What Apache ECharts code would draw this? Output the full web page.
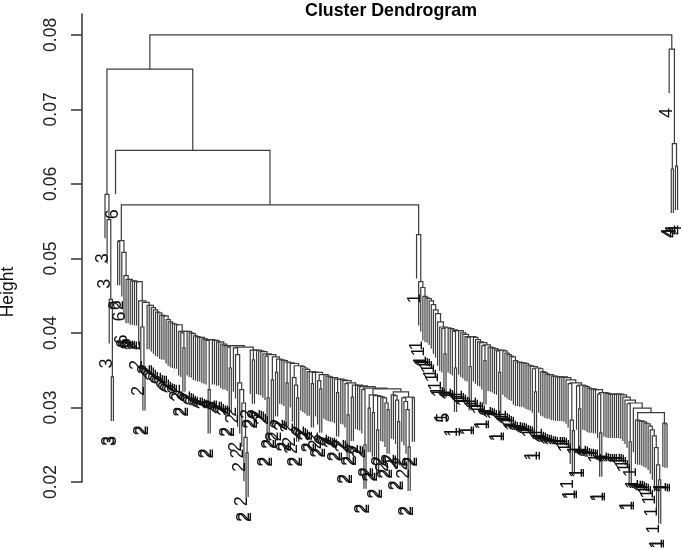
<!DOCTYPE html>
<html><head><meta charset="utf-8"><style>html,body{margin:0;padding:0;background:#fff}#c{width:682px;height:549px;filter:blur(.5px)}</style>
<script src="https://cdn.jsdelivr.net/npm/echarts@6/dist/echarts.min.js"></script></head>
<body><div id="c"></div><script>
const tickValues=[0.02,0.03,0.04,0.05,0.06,0.07,0.08];
const rootHeight=.08, leftHeight=.0754, midHeight=.0645, mainHeight=.0572, rightHeight=.0781, rightSubHeight=.0654;
const hang=.0059;
const clusterLeft=[.0586,.0552,.0445,.0341];
const clusterRightA=[.0620];
const clusterRightB=[.0624];
// each entry: a merge height with a single leaf, or [height, ...nested chain] with a side branch
const chainA=[[.0524,.0523],.0508,.0477,.0472,.0472,.0470,.0470,.0469,.0469,.0443,[.0441,.0408,.0355],
.0437,.0437,.0434,.0431,.0428,.0427,.0424,.0423,.0423,.0418,.0415,.0413,.0412,.0411,.0411,.0402,[.0402,.0400,.0380],
.0402,.0400,.0399,.0396,.0395,.0394,.0394,.0392,.0391,[.0391,.0390,.0324],
.0390,.0390,.0388,.0388,.0385,.0383,.0383,[.0383,.0381,.0353],[.0381,.0380,.0371,.0333,.0324,.0306,.0260,.0239],
.0377,[.0377,.0364],.0377,.0376,.0375,.0372,[.0371,.0369,.0313],[.0368,.0337],[.0365,.0347],.0364,.0363,.0361,[.0360,.0333],.0359,
[.0356,.0340,.0330,.0313],.0355,.0353,.0351,.0348,.0348,[.0347,.0332],.0347,[.0344,.0336,.0325],
.0344,.0342,.0341,.0340,.0340,.0338,[.0338,.0320],.0337,.0336,[.0333,.0332,.0290],[.0330,.0314],.0330,.0329,.0328,[.0326,.0324,.0250],
[.0325,[.0317,.0299],[.0316,.0293],[.0315,.0270],.0314,.0313,.0306,.0297],
[.0321,.0317,.0316,.0310,.0281],[.0314,.0313,.0308,.0297,.0247],.0313];
const chainB=[.0532,.0469,.0461,.0449,.0447,.0446,.0443,.0438,.0431,.0426,.0415,.0408,[.0407,.0406,.0372],
.0406,.0404,[.0403,.0402,.0353],.0403,.0400,.0398,.0395,[.0395,.0394,.0355],.0394,.0391,.0388,.0387,[.0384,.0383,.0363],
.0381,.0380,.0379,.0377,[.0377,.0376,.0347],.0376,.0373,.0371,.0369,.0368,.0363,.0361,.0361,.0360,.0360,.0359,.0357,.0356,.0355,
[.0353,.0352,.0321],.0352,.0348,.0347,.0345,.0344,.0344,.0342,.0342,.0341,.0341,.0341,.0341,.0340,.0337,
[.0333,.0332,.0283,.0269],[.0330,.0329,.0298],.0329,.0328,.0326,.0325,.0325,.0324,.0324,[.0320,.0318,.0266],
.0320,.0319,.0318,.0318,.0318,.0318,.0318,.0318,.0317,.0314,.0310,[.0306,.0305,.0254],.0299,
[.0293,.0283,.0282,.0282,.0281,.0279,.0278,.0275,.0270,.0262,.0246,.0223,.0203],.0279,.0278];
const labelRuns=[['3',5],['6',2],['2',1],['6',4],['2',136],['1',14],['5',1],['1',105],['4',5]];

const labelSeq=[];labelRuns.forEach(r=>{for(let i=0;i<r[1];i++)labelSeq.push(r[0]);});
let nextLeaf=0;const links=[],leaves=[];
function leaf(){return {x:nextLeaf++,h:null};}
function node(h,l,r){
  const ly=l.h===null?h-hang:l.h, ry=r.h===null?h-hang:r.h;
  if(l.h===null)leaves.push([l.x,ly]);
  if(r.h===null)leaves.push([r.x,ry]);
  links.push([l.x,ly,l.x,h,r.x,h,r.x,ry]);
  return {x:(l.x+r.x)/2,h:h};
}
function build(chain,i){
  i=i||0;const e=chain[i];
  const h=Array.isArray(e)?e[0]:e;
  const left=Array.isArray(e)?build(e.slice(1)):leaf();
  const right=i<chain.length-1?build(chain,i+1):leaf();
  return node(h,left,right);
}
const lc=build(clusterLeft);
const ml=leaf();
const ca=build(chainA), cb=build(chainB);
const mainN=node(mainHeight,ca,cb);
const midN=node(midHeight,ml,mainN);
const leftN=node(leftHeight,lc,midN);
const r4=leaf();
const ra=build(clusterRightA), rb=build(clusterRightB);
const rs=node(rightSubHeight,ra,rb);
const rightN=node(rightHeight,r4,rs);
node(rootHeight,leftN,rightN);
leaves.sort((a,b)=>a[0]-b[0]);
const labelData=leaves.map((d,i)=>[d[0],d[1]]);

const chart=echarts.init(document.getElementById('c'));
const FONT='"Liberation Sans",Arial,sans-serif';
chart.setOption({
  animation:false,
  backgroundColor:'#fff',
  title:{text:'Cluster Dendrogram',left:386,top:-3,textAlign:'center',textStyle:{fontFamily:FONT,fontSize:17.8,fontWeight:'bold',color:'#000'}},
  grid:{left:82,right:0,top:14,bottom:67},
  xAxis:{type:'value',min:-10.926,max:274.1,show:false},
  yAxis:{type:'value',min:.02,max:.0828,splitLine:{show:false},
    axisLine:{show:true,onZero:false,lineStyle:{color:'#333',width:1.5}},
    axisTick:{show:true,length:11,customValues:tickValues,lineStyle:{color:'#333',width:1.5}},
    axisLabel:{customValues:tickValues,rotate:90,margin:22,fontFamily:FONT,fontSize:17.5,color:'#222',formatter:v=>v.toFixed(2),align:'center',verticalAlign:'bottom'}},
  graphic:[{type:'text',x:8,y:292,rotation:Math.PI/2,style:{text:'Height',font:'17.5px '+FONT,fill:'#111',align:'center',verticalAlign:'middle'}}],
  series:[
   {type:'custom',data:links,silent:true,renderItem:(p,api)=>{
      const pts=[0,2,4,6].map(k=>api.coord([api.value(k),api.value(k+1)]));
      return {type:'polyline',shape:{points:pts},style:{fill:null,stroke:'#3c3c3c',lineWidth:1.2}};
    },encode:{x:[0,2,4,6],y:[1,3,5,7]}},
   {type:'custom',data:labelData,silent:true,renderItem:(p,api)=>{
      const c=api.coord([api.value(0),api.value(1)]);
      return {type:'text',x:c[0]-2,y:c[1]+20,rotation:Math.PI/2,style:{text:labelSeq[p.dataIndex],font:'18px '+FONT,fill:'#111',align:'center',verticalAlign:'middle'}};
    },encode:{x:0,y:1}}
  ]
});
</script></body></html>
